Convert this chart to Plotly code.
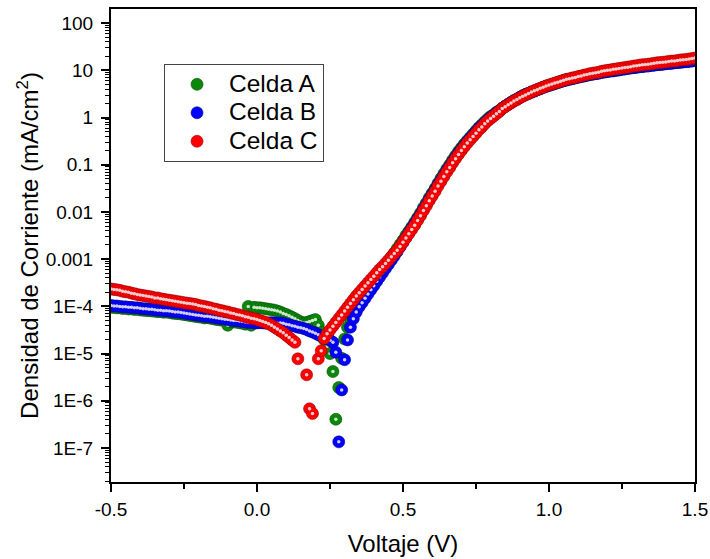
import plotly.graph_objects as go

# Voltage sweep (V)
voltaje = [
    -0.50, -0.49, -0.48, -0.47, -0.46, -0.45, -0.44, -0.43, -0.42, -0.41,
    -0.40, -0.39, -0.38, -0.37, -0.36, -0.35, -0.34, -0.33, -0.32, -0.31,
    -0.30, -0.29, -0.28, -0.27, -0.26, -0.25, -0.24, -0.23, -0.22, -0.21,
    -0.20, -0.19, -0.18, -0.17, -0.16, -0.15, -0.14, -0.13, -0.12, -0.11,
    -0.10, -0.09, -0.08, -0.07, -0.06, -0.05, -0.04, -0.03, -0.02, -0.01,
    0.00, 0.01, 0.02, 0.03, 0.04, 0.05, 0.06, 0.07, 0.08, 0.09,
    0.10, 0.11, 0.12, 0.13, 0.14, 0.15, 0.16, 0.17, 0.18, 0.19,
    0.20, 0.21, 0.22, 0.23, 0.24, 0.25, 0.26, 0.27, 0.28, 0.29,
    0.30, 0.31, 0.32, 0.33, 0.34, 0.35, 0.36, 0.37, 0.38, 0.39,
    0.40, 0.41, 0.42, 0.43, 0.44, 0.45, 0.46, 0.47, 0.48, 0.49,
    0.50, 0.51, 0.52, 0.53, 0.54, 0.55, 0.56, 0.57, 0.58, 0.59,
    0.60, 0.61, 0.62, 0.63, 0.64, 0.65, 0.66, 0.67, 0.68, 0.69,
    0.70, 0.71, 0.72, 0.73, 0.74, 0.75, 0.76, 0.77, 0.78, 0.79,
    0.80, 0.81, 0.82, 0.83, 0.84, 0.85, 0.86, 0.87, 0.88, 0.89,
    0.90, 0.91, 0.92, 0.93, 0.94, 0.95, 0.96, 0.97, 0.98, 0.99,
    1.00, 1.01, 1.02, 1.03, 1.04, 1.05, 1.06, 1.07, 1.08, 1.09,
    1.10, 1.11, 1.12, 1.13, 1.14, 1.15, 1.16, 1.17, 1.18, 1.19,
    1.20, 1.21, 1.22, 1.23, 1.24, 1.25, 1.26, 1.27, 1.28, 1.29,
    1.30, 1.31, 1.32, 1.33, 1.34, 1.35, 1.36, 1.37, 1.38, 1.39,
    1.40, 1.41, 1.42, 1.43, 1.44, 1.45, 1.46, 1.47, 1.48, 1.49,
    1.50,
]

# Current density (mA/cm^2)
celda_a = [
    9.6e-5, 9.5e-5, 9.3e-5, 9.4e-5, 9.0e-5, 9.1e-5, 8.8e-5, 8.9e-5, 8.6e-5, 8.7e-5,
    8.4e-5, 8.3e-5, 8.2e-5, 8.1e-5, 8.0e-5, 7.9e-5, 7.7e-5, 7.8e-5, 7.5e-5, 7.6e-5,
    7.4e-5, 7.2e-5, 7.1e-5, 7.0e-5, 6.9e-5, 6.7e-5, 6.6e-5, 6.4e-5, 6.3e-5, 6.1e-5,
    6.0e-5, 5.9e-5, 5.7e-5, 5.8e-5, 5.6e-5, 5.5e-5, 5.3e-5, 5.2e-5, 5.1e-5, 5.0e-5,
    3.98e-5, 4.8e-5, 4.7e-5, 4.6e-5, 4.5e-5, 4.4e-5, 4.2e-5, 1.00e-4, 3.98e-5, 9.55e-5,
    9.33e-5, 9.33e-5, 9.12e-5, 8.91e-5, 8.71e-5, 8.51e-5, 8.32e-5, 7.94e-5, 7.59e-5, 7.08e-5,
    6.76e-5, 6.31e-5, 5.89e-5, 5.50e-5, 5.01e-5, 4.68e-5, 4.47e-5, 4.57e-5, 4.79e-5, 5.01e-5,
    5.25e-5, 3.98e-5, 2.82e-5, 2.00e-5, 1.41e-5, 1.00e-5, 4.17e-6, 4.07e-7, 1.91e-6, 7.94e-6,
    2.04e-5, 3.63e-5, 5.50e-5, 7.59e-5, 1.00e-4, 1.26e-4, 1.55e-4, 1.91e-4, 2.34e-4, 2.82e-4,
    3.47e-4, 4.17e-4, 5.13e-4, 6.17e-4, 7.59e-4, 9.12e-4, 1.12e-3, 1.35e-3, 1.66e-3, 2.04e-3,
    2.51e-3, 3.16e-3, 3.89e-3, 4.79e-3, 6.03e-3, 7.59e-3, 9.55e-3, 1.23e-2, 1.55e-2, 2.00e-2,
    2.51e-2, 3.16e-2, 4.07e-2, 5.13e-2, 6.46e-2, 8.13e-2, 0.100, 0.126, 0.155, 0.191,
    0.229, 0.275, 0.324, 0.380, 0.447, 0.525, 0.617, 0.708, 0.813, 0.933,
    1.05, 1.15, 1.29, 1.41, 1.58, 1.74, 1.91, 2.09, 2.26, 2.45,
    2.66, 2.90, 3.11, 3.27, 3.49, 3.66, 3.91, 4.10, 4.39, 4.60,
    4.82, 5.04, 5.28, 5.53, 5.78, 6.06, 6.28, 6.50, 6.72, 6.96,
    7.20, 7.45, 7.64, 7.90, 8.18, 8.37, 8.56, 8.77, 9.08, 9.29,
    9.50, 9.72, 9.84, 10.1, 10.3, 10.6, 10.8, 11.1, 11.3, 11.5,
    11.7, 12.0, 12.1, 12.4, 12.5, 12.8, 13.0, 13.3, 13.4, 13.6,
    13.9, 14.1, 14.2, 14.6, 14.7, 14.9, 15.2, 15.4, 15.6, 15.9,
    16.3,
]

celda_b = [
    1.05e-4, 1.02e-4, 1.02e-4, 1.00e-4, 9.77e-5, 9.77e-5, 9.55e-5, 9.55e-5, 9.33e-5, 9.33e-5,
    9.12e-5, 8.91e-5, 8.91e-5, 8.71e-5, 8.71e-5, 8.51e-5, 8.32e-5, 8.32e-5, 8.13e-5, 8.13e-5,
    7.94e-5, 7.76e-5, 7.59e-5, 7.59e-5, 7.41e-5, 7.24e-5, 7.08e-5, 6.92e-5, 6.76e-5, 6.61e-5,
    6.46e-5, 6.31e-5, 6.17e-5, 6.17e-5, 6.03e-5, 5.89e-5, 5.75e-5, 5.62e-5, 5.50e-5, 5.37e-5,
    5.25e-5, 5.13e-5, 5.01e-5, 5.01e-5, 4.90e-5, 4.79e-5, 4.68e-5, 4.57e-5, 4.57e-5, 4.47e-5,
    4.47e-5, 4.52e-5, 4.47e-5, 4.42e-5, 4.47e-5, 4.52e-5, 4.47e-5, 4.42e-5, 4.47e-5, 4.37e-5,
    4.17e-5, 4.07e-5, 3.89e-5, 3.80e-5, 3.63e-5, 3.55e-5, 3.39e-5, 3.24e-5, 3.02e-5, 2.88e-5,
    2.69e-5, 2.51e-5, 2.34e-5, 2.19e-5, 2.04e-5, 1.91e-5, 1.74e-5, 1.07e-5, 1.35e-7, 1.70e-6,
    7.41e-6, 1.95e-5, 3.63e-5, 5.50e-5, 7.59e-5, 9.77e-5, 1.20e-4, 1.48e-4, 1.82e-4, 2.24e-4,
    2.75e-4, 3.39e-4, 4.17e-4, 5.13e-4, 6.31e-4, 7.76e-4, 9.55e-4, 1.17e-3, 1.45e-3, 1.82e-3,
    2.29e-3, 2.88e-3, 3.63e-3, 4.57e-3, 5.62e-3, 7.08e-3, 8.91e-3, 1.15e-2, 1.45e-2, 1.86e-2,
    2.34e-2, 2.95e-2, 3.80e-2, 4.79e-2, 6.03e-2, 7.59e-2, 9.33e-2, 0.117, 0.145, 0.178,
    0.214, 0.257, 0.309, 0.363, 0.427, 0.501, 0.589, 0.676, 0.776, 0.891,
    1.00, 1.12, 1.26, 1.38, 1.58, 1.74, 1.91, 2.09, 2.29, 2.45,
    2.69, 2.88, 3.09, 3.24, 3.47, 3.63, 3.89, 4.07, 4.37, 4.57,
    4.79, 5.01, 5.25, 5.50, 5.75, 6.03, 6.24, 6.46, 6.68, 6.92,
    7.16, 7.41, 7.59, 7.85, 8.13, 8.32, 8.51, 8.71, 9.02, 9.23,
    9.44, 9.66, 9.77, 10.0, 10.2, 10.5, 10.7, 11.0, 11.2, 11.4,
    11.6, 11.9, 12.0, 12.3, 12.4, 12.7, 12.9, 13.2, 13.3, 13.5,
    13.8, 14.0, 14.1, 14.5, 14.6, 14.8, 15.1, 15.3, 15.5, 15.8,
    16.2,
]

celda_c = [
    2.34e-4, 2.29e-4, 2.24e-4, 2.19e-4, 2.09e-4, 2.04e-4, 2.00e-4, 1.91e-4, 1.86e-4, 1.78e-4,
    1.74e-4, 1.70e-4, 1.66e-4, 1.62e-4, 1.58e-4, 1.51e-4, 1.51e-4, 1.45e-4, 1.41e-4, 1.38e-4,
    1.35e-4, 1.32e-4, 1.29e-4, 1.26e-4, 1.23e-4, 1.20e-4, 1.17e-4, 1.15e-4, 1.12e-4, 1.10e-4,
    1.05e-4, 1.02e-4, 1.00e-4, 9.55e-5, 9.33e-5, 8.91e-5, 8.71e-5, 8.32e-5, 8.13e-5, 7.76e-5,
    7.59e-5, 7.24e-5, 7.08e-5, 6.76e-5, 6.61e-5, 6.31e-5, 6.03e-5, 5.89e-5, 5.62e-5, 5.50e-5,
    5.25e-5, 5.01e-5, 4.79e-5, 4.57e-5, 4.27e-5, 3.98e-5, 3.63e-5, 3.31e-5, 3.02e-5, 2.75e-5,
    2.45e-5, 2.19e-5, 1.95e-5, 1.74e-5, 7.76e-6, None, None, 3.55e-6, 6.76e-7, 5.37e-7,
    None, 7.76e-6, 1.15e-5, 2.09e-5, 2.63e-5, 3.16e-5, 3.80e-5, 4.57e-5, 5.50e-5, 6.61e-5,
    7.94e-5, 9.55e-5, 1.15e-4, 1.38e-4, 1.66e-4, 1.95e-4, 2.29e-4, 2.69e-4, 3.16e-4, 3.72e-4,
    4.37e-4, 5.13e-4, 6.03e-4, 6.92e-4, 8.13e-4, 9.55e-4, 1.12e-3, 1.32e-3, 1.55e-3, 1.86e-3,
    2.29e-3, 2.82e-3, 3.47e-3, 4.27e-3, 5.25e-3, 6.61e-3, 8.32e-3, 1.07e-2, 1.35e-2, 1.74e-2,
    2.19e-2, 2.75e-2, 3.55e-2, 4.47e-2, 5.62e-2, 7.08e-2, 8.71e-2, 0.110, 0.135, 0.166,
    0.200, 0.240, 0.288, 0.339, 0.398, 0.468, 0.550, 0.631, 0.741, 0.851,
    0.955, 1.07, 1.20, 1.35, 1.55, 1.70, 1.86, 2.04, 2.24, 2.40,
    2.63, 2.82, 3.02, 3.24, 3.47, 3.72, 3.89, 4.17, 4.37, 4.68,
    4.90, 5.13, 5.37, 5.62, 5.89, 6.17, 6.46, 6.61, 6.92, 7.08,
    7.41, 7.59, 7.94, 8.13, 8.51, 8.71, 8.91, 9.12, 9.55, 9.77,
    10.0, 10.2, 10.5, 10.7, 11.0, 11.2, 11.5, 11.7, 12.0, 12.3,
    12.6, 12.9, 13.2, 13.3, 13.5, 13.8, 14.1, 14.5, 14.6, 14.8,
    15.1, 15.5, 15.7, 15.8, 16.2, 16.6, 16.8, 17.0, 17.4, 17.8,
    18.2,
]

series_names = ["Celda A", "Celda B", "Celda C"]
series_colors = ["#0b870b", "#0000ff", "#ff0000"]
edge_colors = ["#055005", "#00009a", "#a00000"]

x_tickvals = [-0.5, 0.0, 0.5, 1.0, 1.5]
x_ticktext = ["-0.5", "0.0", "0.5", "1.0", "1.5"]
y_tickvals = [1e2, 1e1, 1e0, 1e-1, 1e-2, 1e-3, 1e-4, 1e-5, 1e-6, 1e-7]
y_ticktext = ["100", "10", "1", "0.1", "0.01", "0.001", "1E-4", "1E-5", "1E-6", "1E-7"]

FONT = "Arial, Liberation Sans, sans-serif"

fig = go.Figure()
for name, ys, col, edge in zip(series_names, [celda_a, celda_b, celda_c], series_colors, edge_colors):
    fig.add_trace(go.Scatter(
        x=voltaje, y=ys, mode="markers",
        name="<span style='font-size:24.5px'>" + name + "</span>",
        marker=dict(size=12, color=col, line=dict(color=edge, width=0.6)),
    ))
    fig.add_trace(go.Scatter(
        x=voltaje, y=ys, mode="markers", showlegend=False, hoverinfo="skip",
        marker=dict(size=3.5, color="rgba(255,255,255,0.8)", line=dict(width=0)),
    ))

minor_y = []
for e in range(-8, 3):
    for m in range(2, 10):
        minor_y.append(m * 10.0 ** e)

fig.update_layout(
    width=710, height=559,
    margin=dict(l=111, r=15, t=9, b=77),
    plot_bgcolor="white", paper_bgcolor="white",
    font=dict(family=FONT, color="black"),
    legend=dict(
        x=0.0908, y=0.8836, xanchor="left", yanchor="top",
        bordercolor="#444444", borderwidth=1, bgcolor="white",
        font=dict(size=19.6, family=FONT, color="black"),
        itemwidth=54, tracegroupgap=0,
    ),
)

fig.update_xaxes(
    range=[-0.5, 1.5], tickmode="array", tickvals=x_tickvals, ticktext=x_ticktext,
    ticks="outside", ticklen=8, tickwidth=1.5, tickcolor="black",
    minor=dict(tickmode="linear", tick0=-0.5, dtick=0.25, ticks="outside", ticklen=5, tickwidth=1.5, tickcolor="black", showgrid=False),
    showline=True, linecolor="black", linewidth=2, mirror=True,
    showgrid=False, zeroline=False, automargin=False,
    ticklabelstandoff=1,
    tickfont=dict(size=19, family=FONT, color="black"),
    title=dict(text="Voltaje (V)", font=dict(size=24, family=FONT, color="black"), standoff=16),
)

fig.update_yaxes(
    type="log", range=[-7.72, 2.30], tickmode="array", tickvals=y_tickvals, ticktext=y_ticktext,
    ticks="outside", ticklen=8, tickwidth=1.5, tickcolor="black",
    minor=dict(tickmode="array", tickvals=minor_y, ticks="outside", ticklen=4, tickwidth=1, tickcolor="black", showgrid=False),
    showline=True, linecolor="black", linewidth=2, mirror=True,
    showgrid=False, zeroline=False, automargin=False,
    ticklabelstandoff=4,
    tickfont=dict(size=19, family=FONT, color="black"),
    title=dict(text="Densidad de Corriente (mA/cm<sup>2</sup>)", font=dict(size=24, family=FONT, color="black"), standoff=0),
)

fig.write_html("out.html")
